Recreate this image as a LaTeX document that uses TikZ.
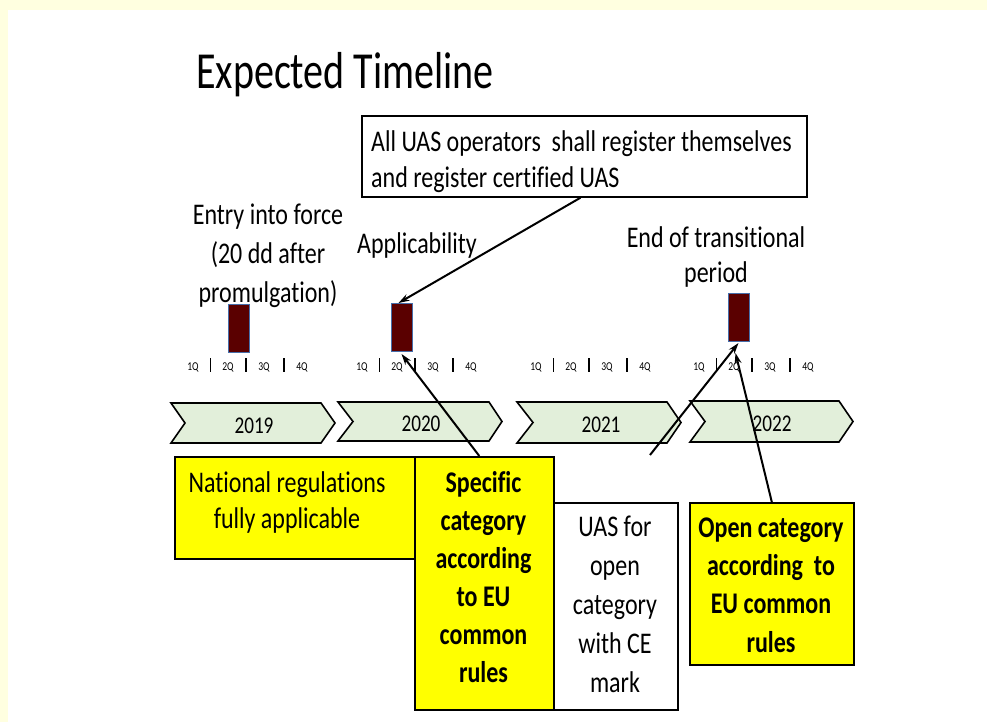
\documentclass[tikz,border=0pt]{standalone}
\usepackage{fontspec}
\setmainfont{Carlito}[FakeStretch=0.8, Ligatures=NoCommon]
\newfontfamily\titlefont{Carlito}[FakeStretch=0.77, Ligatures=NoCommon]
\usetikzlibrary{arrows.meta,calc}
\definecolor{bgyellow}{RGB}{255,255,224}
\definecolor{chevgreen}{RGB}{226,239,218}
\definecolor{marker}{RGB}{90,0,0}
\definecolor{markerline}{RGB}{70,110,170}
\definecolor{boxyellow}{RGB}{255,255,0}
\begin{document}
\begin{tikzpicture}[x=1pt,y=-1pt,
  lbl/.style={font=\fontsize{30}{40}\selectfont, align=center, inner sep=0pt},
  qlbl/.style={font=\fontsize{12}{14}\selectfont, inner sep=0pt},
  qtick/.style={line width=1.8pt},
  chev/.style={fill=chevgreen, draw=black, line width=1.6pt, line join=miter},
  yearlbl/.style={font=\fontsize{24}{28}\selectfont, inner sep=0pt},
  marknode/.style={fill=marker, draw=markerline, line width=1pt, minimum width=21pt, minimum height=48pt, inner sep=0pt},
  infobox/.style={draw=black, line width=1.6pt, inner sep=0pt, align=center},
  conn/.style={line width=2pt, -{Stealth[length=11pt,width=7pt]}}
]
\useasboundingbox (0,0) rectangle (987,722);
% background
\fill[bgyellow] (0,0) rectangle (987,722);
\fill[white] (8,10) rectangle (987,722);

% title
\node[anchor=base west, inner sep=0pt, font=\titlefont\fontsize{52}{60}\selectfont] (title) at (196,89) {Expected Timeline};

% register box (text node anchored at the baseline of its last line)
\node[draw=black, line width=1.4pt, minimum width=445pt, minimum height=81pt] (regbox) at (584.5,156.5) {};
\node[anchor=base west, align=left, inner sep=0pt, font=\fontsize{30}{36}\selectfont] (regtxt) at (371,188) {All UAS operators\ \ shall register themselves\\and register certified UAS};

% milestone labels
\node[lbl, anchor=base, font=\fontsize{30}{39}\selectfont] (entry) at (268,302) {Entry into force\\(20 dd after\\promulgation)};
\node[lbl, anchor=base] (appl) at (417,253) {Applicability};
\node[lbl, anchor=base, font=\fontsize{30}{35}\selectfont] (endtr) at (716,282) {End of transitional\\period};

% markers
\node[marknode] (r1) at (238.5,328.5) {};
\node[marknode] (r2) at (401.5,327.5) {};
\node[marknode] (r3) at (738.5,317.5) {};

% quarters
\foreach \gx/\gn in {193/a,362/b,536/c,699/d}{
  \node[qlbl] (q1\gn) at (\gx,367) {1Q};
  \node[qlbl] (q2\gn) at (\gx+35,367) {2Q};
  \node[qlbl] (q3\gn) at (\gx+71,367) {3Q};
  \node[qlbl] (q4\gn) at (\gx+109,367) {4Q};
  \draw[qtick] (\gx+17.5,358) -- (\gx+17.5,372);
  \draw[qtick] (\gx+53,358) -- (\gx+53,372);
  \draw[qtick] (\gx+91,358) -- (\gx+91,372);
}

% chevrons
\draw[chev] (171,403) -- (321,403) -- (335,423) -- (321,443) -- (171,443) -- (185,423) -- cycle;
\draw[chev] (338,402) -- (489,402) -- (502,421.5) -- (489,441) -- (338,441) -- (353,421.5) -- cycle;
\draw[chev] (517,402) -- (667,402) -- (681,422.5) -- (667,443) -- (517,443) -- (533,422.5) -- cycle;
\draw[chev] (690,401) -- (839,401) -- (853,421.5) -- (839,442) -- (690,442) -- (705,421.5) -- cycle;
\node[yearlbl] (y19) at (254,426) {2019};
\node[yearlbl] (y20) at (421,424) {2020};
\node[yearlbl] (y21) at (601,425) {2021};
\node[yearlbl] (y22) at (772,424) {2022};

% bottom boxes
\node[infobox, fill=boxyellow, minimum width=241pt, minimum height=102pt, anchor=north west] (nat) at (174,456) {};
\node[anchor=base, align=center, inner sep=0pt, font=\fontsize{30}{36}\selectfont] (nattxt) at (287,528) {National regulations\\fully applicable};
\node[infobox, fill=boxyellow, minimum width=139pt, minimum height=253pt, anchor=north west] (spec) at (414,456) {};
\node[anchor=base, align=center, inner sep=0pt, font=\bfseries\fontsize{30}{38}\selectfont] (spectxt) at (483.5,682) {Specific\\category\\according\\to EU\\common\\rules};
\node[infobox, fill=white, minimum width=124pt, minimum height=207pt, anchor=north west] (uas) at (553,502) {};
\node[anchor=base, align=center, inner sep=0pt, font=\fontsize{30}{38.8}\selectfont] (uastxt) at (615,692) {UAS for\\open\\category\\with CE\\mark};
\node[infobox, fill=boxyellow, minimum width=164pt, minimum height=162pt, anchor=north west] (open) at (689,502) {};
\node[anchor=base, align=center, inner sep=0pt, font=\bfseries\fontsize{30}{38.3}\selectfont] (opentxt) at (771,652) {Open category\\according\ \ to\\EU common\\rules};

% connectors
\coordinate (cfree) at (650,455);
\coordinate (r3low) at ($(r3.south)+(-3,11)$);
\draw[conn] ($(regbox.south)+(-4,0)$) -- ($(r2.north)+(-3,0)$);
\draw[conn] ($(spec.north)+(-5,0)$) -- ($(r2.south)+(0,2)$);
\draw[conn] (cfree) -- ($(r3.south)+(0,1)$);
\draw[conn] (open.north) -- (r3low);
\end{tikzpicture}
\end{document}
